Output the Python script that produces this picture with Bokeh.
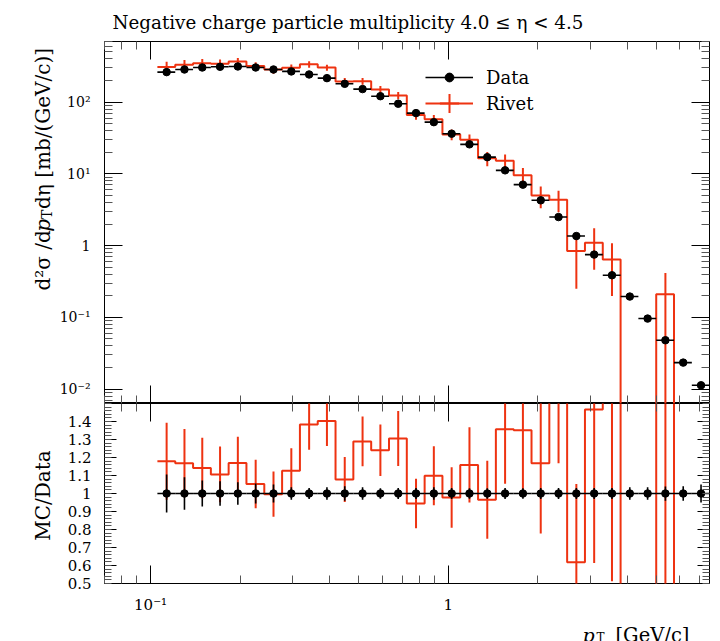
from bokeh.plotting import figure
from bokeh.layouts import column, row
from bokeh.models import (FixedTicker, LogAxis, LinearAxis, Range1d, Label,
                          Legend, LegendItem)
from bokeh.embed import file_html
from bokeh.resources import INLINE

# ---------------- data ----------------
# pT bin edges [GeV/c] of the 31 filled bins
pt_edges = [0.1054, 0.1210, 0.1389, 0.1594, 0.1829, 0.2099, 0.2410, 0.2766,
            0.3175, 0.3644, 0.4182, 0.4800, 0.5510, 0.6324, 0.7259, 0.8332,
            0.9563, 1.0976, 1.2598, 1.4459, 1.6596, 1.9051, 2.1866, 2.5095,
            2.8804, 3.3062, 3.7949, 4.3551, 4.9993, 5.7360, 6.5853, 7.5578]
data_val = [262, 285, 304, 311, 314, 304, 285, 268, 243, 216, 180, 152, 121, 95,
            70.3, 52.6, 36.3, 25.8, 17.1, 11.2, 7.08, 4.28, 2.50, 1.36, 0.750,
            0.386, 0.195, 0.0962, 0.048, 0.0234, 0.0113]
data_err = [27.5, 25.7, 21.9, 21.1, 19.8, 16.7, 14.3, 9.4, 7.3, 7.6, 7.2, 5.3, 3.6, 2.85,
            2.1, 1.84, 1.09, 0.77, 0.51, 0.34, 0.21, 0.13, 0.075, 0.041, 0.0225,
            0.0116, 0.0068, 0.0034, 0.0019, 0.00094, 0.00057]
mc_val = [309, 333, 347, 344, 367, 320, 284, 302, 336, 303, 194, 196, 150, 124,
          66.4, 57.8, 35.5, 29.9, 16.5, 15.2, 9.57, 5.00, 4.37, 0.841, 1.10,
          0.638, 0, 0, 0.210, 0, 0]
mc_err = [56, 54, 51, 48, 46, 41, 36, 33.5, 34, 30, 22.5, 21, 17.3, 14.5,
          9.7, 8.6, 6.1, 5.4, 3.7, 3.4, 2.5, 1.67, 1.45, 0.59, 0.64,
          0.44, 0, 0, 0.205, 0, 0]

x_major = [0.1, 1]
x_major_labels = ["10⁻¹", "1"]
y_major = [0.01, 0.1, 1, 10, 100]
y_major_labels = ["10⁻²", "10⁻¹", "1", "10¹", "10²"]
r_major = [0.5, 0.6, 0.7, 0.8, 0.9, 1.0, 1.1, 1.2, 1.3, 1.4]
r_major_labels = ["0.5", "0.6", "0.7", "0.8", "0.9", "1", "1.1", "1.2", "1.3", "1.4"]

title_text = "Negative charge particle multiplicity 4.0 ≤ η < 4.5"

# ---------------- derived ----------------
X_LO, X_HI = 0.0700, 7.55
Y_LO, Y_HI = 0.0063, 700
FLOOR = 1e-9

lo = pt_edges[:-1]
hi = pt_edges[1:]
ctr = [(a + b) / 2 for a, b in zip(lo, hi)]

mc_draw = [v if v > 0 else FLOOR for v in mc_val]
ratio = [m / d for m, d in zip(mc_val, data_val)]
ratio_err = [e / d for e, d in zip(mc_err, data_val)]
data_rel = [e / d for e, d in zip(data_err, data_val)]
ones = [1.0 for _ in data_val]

has_mc = [i for i, v in enumerate(mc_val) if v > 0]

RED = "#EE3311"
FONT = "DejaVu Serif"
RED_W = 2.0
BLK_W = 1.6

x_minor = [m * 10.0 ** k for k in (-2, -1, 0) for m in range(2, 10)]
x_minor = [v for v in x_minor if X_LO <= v <= X_HI]
y_minor = [m * 10.0 ** k for k in range(-3, 3) for m in range(2, 10)]
y_minor = [v for v in y_minor if Y_LO <= v <= Y_HI]
r_minor = [round(0.5 + 0.02 * i, 2) for i in range(51)]

# layout geometry (pixels)
STRIP_W = 56
BORDER_L = 48          # frame left edge at STRIP_W + BORDER_L = 104
FRAME_L = STRIP_W + BORDER_L
FRAME_W = 605
PLOT_W = BORDER_L + FRAME_W + 6
TOP_H = 39
MAIN_H = 364
RATIO_H = 213
BOT_H = 25
TOTAL_H = TOP_H + MAIN_H + RATIO_H + BOT_H


def style_axis(ax, major_in, minor_in, labels=None, font_size="14px", standoff=10):
    ax.major_tick_in = major_in
    ax.major_tick_out = 0
    ax.minor_tick_in = minor_in
    ax.minor_tick_out = 0
    ax.axis_line_color = None
    ax.major_tick_line_color = "black"
    ax.major_tick_line_width = 1
    ax.minor_tick_line_color = "#555555"
    ax.minor_tick_line_width = 1
    ax.axis_label = None
    if labels:
        ax.major_label_overrides = labels
        ax.major_label_text_font = FONT
        ax.major_label_text_font_size = font_size
        ax.major_label_text_color = "black"
        ax.major_label_standoff = standoff
    else:
        ax.major_label_text_font_size = "1px"
        ax.major_label_text_alpha = 0
        ax.major_label_standoff = 0


def text_strip(w, h, xr):
    s = figure(width=w, height=h, x_range=Range1d(0, xr), y_range=Range1d(0, h),
               x_axis_location=None, y_axis_location=None, title=None,
               output_backend="svg", toolbar_location=None,
               min_border=0, min_border_left=0, min_border_right=0,
               min_border_top=0, min_border_bottom=0)
    s.grid.visible = False
    s.outline_line_color = None
    return s


# ---------------- main panel ----------------
p1 = figure(width=PLOT_W, height=MAIN_H, x_axis_type="log", y_axis_type="log",
            x_range=Range1d(X_LO, X_HI), y_range=Range1d(Y_LO, Y_HI),
            output_backend="svg", toolbar_location=None, title=None,
            min_border_left=BORDER_L, min_border_right=6, min_border_top=2,
            min_border_bottom=0)
p1.grid.visible = False
p1.outline_line_color = "black"
p1.outline_line_width = 1

p1.xaxis.ticker = FixedTicker(ticks=x_major, minor_ticks=x_minor)
p1.yaxis.ticker = FixedTicker(ticks=y_major, minor_ticks=y_minor)
style_axis(p1.xaxis[0], 18, 8)
style_axis(p1.yaxis[0], 18, 8, labels=dict(zip(y_major, y_major_labels)),
           standoff=14)
top1 = LogAxis(ticker=FixedTicker(ticks=x_major, minor_ticks=x_minor))
style_axis(top1, 18, 8)
p1.add_layout(top1, "above")
right1 = LogAxis(ticker=FixedTicker(ticks=y_major, minor_ticks=y_minor))
style_axis(right1, 18, 8)
p1.add_layout(right1, "right")

# MC histogram
mc_step = p1.step(x=pt_edges, y=mc_draw + [mc_draw[-1]], mode="after",
                  line_color=RED, line_width=RED_W)
p1.segment(x0=[ctr[i] for i in has_mc],
           y0=[max(mc_val[i] - mc_err[i], FLOOR) for i in has_mc],
           x1=[ctr[i] for i in has_mc],
           y1=[mc_val[i] + mc_err[i] for i in has_mc],
           line_color=RED, line_width=RED_W)
# zero-size markers on the MC points: only used for the legend key
mc_key = p1.scatter(x=[ctr[i] for i in has_mc], y=[mc_val[i] for i in has_mc],
                    size=0, marker="cross", line_color=RED, line_width=RED_W)

# data
d_xerr = p1.segment(x0=lo, y0=data_val, x1=hi, y1=data_val,
                    line_color="black", line_width=BLK_W)
p1.segment(x0=ctr, y0=[d - e for d, e in zip(data_val, data_err)],
           x1=ctr, y1=[d + e for d, e in zip(data_val, data_err)],
           line_color="black", line_width=BLK_W)
d_pts = p1.scatter(x=ctr, y=data_val, size=7.5, marker="circle",
                   fill_color="black", line_color="black")

leg_common = dict(orientation="vertical", glyph_width=48, label_standoff=13,
                  spacing=0, padding=0, margin=0, border_line_color=None,
                  background_fill_alpha=0, label_text_font=FONT,
                  label_text_font_size="18px", label_text_color="black")
leg_data = Legend(items=[LegendItem(label="Data", renderers=[d_xerr, d_pts])],
                  location=(321, 315), glyph_height=22, **leg_common)
leg_mc = Legend(items=[LegendItem(label="Rivet", renderers=[mc_step, mc_key])],
                location=(321, 276), glyph_height=48, **leg_common)
p1.add_layout(leg_data)
p1.add_layout(leg_mc)

# ---------------- ratio panel ----------------
p2 = figure(width=PLOT_W, height=RATIO_H, x_axis_type="log",
            x_range=p1.x_range, y_range=Range1d(0.5, 1.5),
            output_backend="svg", toolbar_location=None, title=None,
            min_border_left=BORDER_L, min_border_right=6, min_border_top=0,
            min_border_bottom=32)
p2.grid.visible = False
p2.outline_line_color = "black"
p2.outline_line_width = 1

p2.xaxis.ticker = FixedTicker(ticks=x_major, minor_ticks=x_minor)
p2.yaxis.ticker = FixedTicker(ticks=r_major, minor_ticks=r_minor)
style_axis(p2.xaxis[0], 18, 8, labels=dict(zip(x_major, x_major_labels)),
           font_size="15px", standoff=12)
style_axis(p2.yaxis[0], 12, 7, labels=dict(zip(r_major, r_major_labels)),
           font_size="15px", standoff=13)
top2 = LogAxis(ticker=FixedTicker(ticks=x_major, minor_ticks=x_minor))
style_axis(top2, 18, 8)
p2.add_layout(top2, "above")
right2 = LinearAxis(ticker=FixedTicker(ticks=r_major, minor_ticks=r_minor))
style_axis(right2, 12, 7)
p2.add_layout(right2, "right")

p2.step(x=pt_edges, y=ratio + [ratio[-1]], mode="after",
        line_color=RED, line_width=RED_W)
p2.segment(x0=[ctr[i] for i in has_mc],
           y0=[ratio[i] - ratio_err[i] for i in has_mc],
           x1=[ctr[i] for i in has_mc],
           y1=[ratio[i] + ratio_err[i] for i in has_mc],
           line_color=RED, line_width=RED_W)
p2.segment(x0=lo, y0=ones, x1=hi, y1=ones, line_color="black", line_width=BLK_W)
p2.segment(x0=ctr, y0=[1 - r for r in data_rel], x1=ctr, y1=[1 + r for r in data_rel],
           line_color="black", line_width=BLK_W)
p2.scatter(x=ctr, y=ones, size=7.5, marker="circle",
           fill_color="black", line_color="black")

# ---------------- title / axis-title strips ----------------
# (strip frames in the column are aligned with the plot frames: x measured from frame left)
top_strip = text_strip(PLOT_W, TOP_H, FRAME_W)
top_strip.add_layout(Label(x=112 - FRAME_L, y=TOP_H - 22, text=title_text,
                           text_font=FONT, text_font_size="18.3px",
                           text_align="left", text_baseline="alphabetic",
                           text_color="black"))

left_strip = text_strip(STRIP_W, TOTAL_H, STRIP_W)
YL_X = 42
YL_Y0 = TOTAL_H - 290
ylab_parts = [
    ("d²σ /d", "normal", "20px", 0, 0),
    ("p", "italic", "20px", 58.8, 0),
    ("T", "normal", "14px", 71.6, 4),
    ("dη [mb/(GeV/c)]", "normal", "20px", 81.5, 0),
]
for txt, style, size, dy, dx in ylab_parts:
    left_strip.add_layout(Label(x=YL_X + dx, y=YL_Y0 + dy, angle=90, angle_units="deg",
                                text=txt, text_font=FONT, text_font_style=style,
                                text_font_size=size, text_align="left",
                                text_baseline="alphabetic", text_color="black"))
left_strip.add_layout(Label(x=YL_X, y=TOTAL_H - 495, angle=90, angle_units="deg",
                            text="MC/Data", text_font=FONT, text_font_size="20px",
                            text_align="center", text_baseline="alphabetic",
                            text_color="black"))

bottom_strip = text_strip(PLOT_W, BOT_H, FRAME_W)
XL_Y = TOTAL_H - 634.5
bottom_strip.add_layout(Label(x=582 - FRAME_L, y=XL_Y, text="p", text_font=FONT,
                              text_font_size="19px", text_font_style="italic",
                              text_align="left", text_baseline="alphabetic",
                              text_color="black"))
bottom_strip.add_layout(Label(x=596 - FRAME_L, y=XL_Y - 2.5, text="T", text_font=FONT,
                              text_font_size="12px", text_align="left",
                              text_baseline="alphabetic", text_color="black"))
bottom_strip.add_layout(Label(x=615 - FRAME_L, y=XL_Y, text="[GeV/c]", text_font=FONT,
                              text_font_size="19.5px", text_align="left",
                              text_baseline="alphabetic", text_color="black"))

layout = row(left_strip,
             column(top_strip, p1, p2, bottom_strip, spacing=0),
             spacing=0)
open("out.html", "w").write(file_html(layout, INLINE))
